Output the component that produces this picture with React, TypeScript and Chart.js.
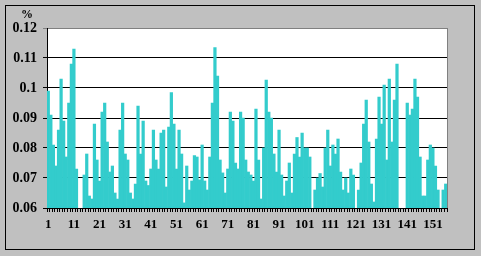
import { useEffect, useRef } from 'react';
import { Chart, registerables } from 'chart.js';

Chart.register(...registerables);

const categories: string[] = Array.from({ length: 156 }, (_, i) => String(i + 1));

const values: (number | null)[] = [
  0.099, 0.091, 0.081, 0.074, 0.086, 0.103, 0.089, 0.077, 0.095, 0.108,
  0.113, 0.073, null, null, 0.071, 0.078, 0.064, 0.063, 0.088, 0.076,
  0.069, 0.092, 0.095, 0.082, 0.072, 0.074, 0.065, 0.063, 0.086, 0.095,
  0.078, 0.076, 0.065, 0.063, 0.068, 0.094, 0.078, 0.089, 0.069, 0.0675,
  0.073, 0.086, 0.076, 0.073, 0.085, 0.086, 0.067, 0.087, 0.0985, 0.088,
  0.073, 0.086, 0.078, 0.0617, 0.074, 0.066, 0.069, 0.0775, 0.077, 0.0694,
  0.081, 0.069, 0.066, 0.077, 0.095, 0.1135, 0.104, 0.076, 0.0717, 0.065,
  0.073, 0.092, 0.089, 0.075, 0.073, 0.092, 0.09, 0.076, 0.072, 0.071,
  0.069, 0.093, 0.076, 0.063, 0.08, 0.1026, 0.092, 0.09, 0.078, 0.072,
  0.086, 0.071, 0.064, 0.069, 0.075, 0.065, 0.078, 0.0835, 0.077, 0.085,
  0.08, 0.08, 0.077, null, 0.066, 0.07, 0.0715, 0.067, 0.08, 0.086,
  0.074, 0.081, 0.078, 0.083, 0.072, 0.066, 0.07, 0.065, 0.073, 0.071,
  null, 0.066, 0.075, 0.088, 0.096, 0.082, 0.068, 0.062, 0.083, 0.097,
  0.088, 0.101, 0.076, 0.103, 0.082, 0.096, 0.108, null, null, null,
  0.095, 0.091, 0.093, 0.103, 0.097, 0.077, 0.064, 0.064, 0.076, 0.081,
  0.08, 0.074, 0.066, null, 0.066, 0.068,
];

const yTickLabels: string[] = ['0.06', '0.07', '0.08', '0.09', '0.1', '0.11', '0.12'];
const unitLabel = '%';

const BAR = '#33CCCC';
const FONT = "'Liberation Serif', 'Times New Roman', serif";

const framePlugin = {
  id: 'frame',
  beforeDraw(chart: any) {
    const { ctx, chartArea: a } = chart;
    ctx.save();
    ctx.fillStyle = '#FFFFFF';
    ctx.fillRect(a.left, a.top, a.right - a.left, a.bottom - a.top);
    ctx.restore();
  },
  afterDraw(chart: any) {
    const { ctx, chartArea: a } = chart;
    ctx.save();
    ctx.strokeStyle = '#808080';
    ctx.lineWidth = 1;
    ctx.beginPath();
    ctx.moveTo(Math.round(a.right) + 0.5, a.top);
    ctx.lineTo(Math.round(a.right) + 0.5, a.bottom);
    ctx.stroke();
    ctx.strokeStyle = '#000000';
    ctx.strokeRect(5.5, 5.5, 469, 244);
    ctx.fillStyle = '#000000';
    ctx.font = `bold 12px ${FONT}`;
    ctx.textAlign = 'center';
    ctx.textBaseline = 'middle';
    ctx.fillText(unitLabel, 27, 15);
    ctx.restore();
  },
};

export default function App() {
  const ref = useRef<HTMLCanvasElement>(null);
  useEffect(() => {
    document.body.style.margin = '0';
    const chart = new Chart(ref.current as HTMLCanvasElement, {
      type: 'bar',
      data: {
        labels: categories,
        datasets: [
          {
            data: values as any,
            backgroundColor: BAR,
            borderWidth: 0,
            categoryPercentage: 1,
            barPercentage: 1,
          },
        ],
      },
      options: {
        responsive: false,
        animation: false,
        layout: { padding: { left: 0, top: 28, right: 34, bottom: 0 } },
        plugins: { legend: { display: false }, tooltip: { enabled: false }, title: { display: false } },
        scales: {
          x: {
            offset: true,
            grid: { offset: true, drawOnChartArea: false, drawTicks: true, tickLength: 4, color: '#000' },
            border: { color: '#000', width: 1 },
            ticks: {
              autoSkip: false,
              maxRotation: 0,
              minRotation: 0,
              padding: 5,
              color: '#000',
              font: { family: FONT, size: 13, weight: 'bold' },
              callback: (_v: any, i: number) => (i % 10 === 0 ? categories[i] : ''),
            },
            afterFit: (s: any) => {
              s.height = 48;
            },
          },
          y: {
            min: 0.06,
            max: 0.12,
            grid: {
              drawTicks: true,
              tickLength: 4,
              color: (c: any) => (c.index === yTickLabels.length - 1 ? '#808080' : '#000'),
            },
            border: { color: '#000', width: 1 },
            ticks: {
              stepSize: 0.01,
              padding: 6,
              color: '#000',
              font: { family: FONT, size: 14, weight: 'bold' },
              callback: (_v: any, i: number) => yTickLabels[i],
            },
            afterFit: (s: any) => {
              s.width = 47;
            },
          },
        },
      },
      plugins: [framePlugin],
    });
    return () => chart.destroy();
  }, []);

  return (
    <div style={{ position: 'absolute', left: 0, top: 0, width: 481, height: 256, background: '#C0C0C0' }}>
      <canvas ref={ref} width={481} height={256} style={{ display: 'block' }} />
    </div>
  );
}
